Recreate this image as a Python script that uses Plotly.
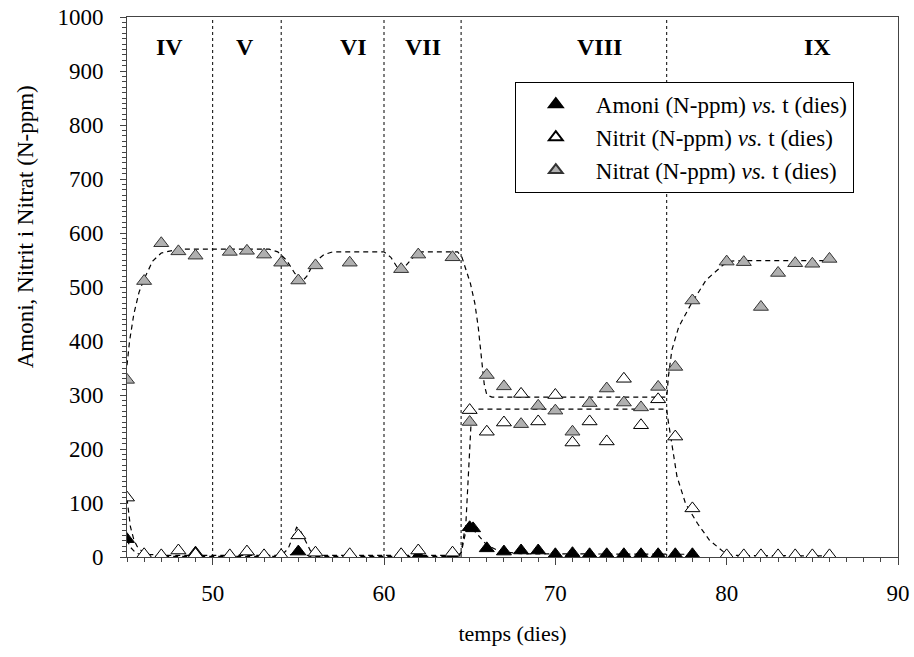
import plotly.graph_objects as go

# ---- data ----
amoni_x = [45, 49, 55, 62, 64, 65, 65.2, 66, 67, 68, 69, 70, 71, 72, 73, 74, 75, 76, 77, 78]
amoni_y = [33, 8, 10, 2, 2, 55, 53, 16, 10, 12, 12, 5, 7, 5, 5, 5, 5, 5, 5, 5]

nitrit_x = [45, 46, 47, 48, 49, 51, 52, 53, 54, 55, 56, 58, 61, 62, 64, 65, 66, 67, 68, 69, 70, 71,
            72, 73, 74, 75, 76, 77, 78, 80, 81, 82, 83, 84, 85, 86]
nitrit_y = [110, 5, 3, 12, 5, 3, 10, 3, 3, 40, 8, 5, 5, 12, 8, 272, 232, 249, 302, 251, 300, 212,
            251, 214, 330, 244, 292, 223, 90, 3, 3, 3, 3, 3, 3, 3]

nitrat_x = [45, 46, 47, 48, 49, 51, 52, 53, 54, 55, 56, 58, 61, 62, 64, 65, 66, 67, 68, 69, 70, 71,
            72, 73, 74, 75, 76, 77, 78, 80, 81, 82, 83, 84, 85, 86]
nitrat_y = [328, 511, 581, 566, 558, 565, 567, 560, 545, 512, 540, 545, 533, 560, 555, 250, 337, 316,
            246, 280, 271, 232, 285, 312, 286, 277, 315, 352, 475, 547, 546, 463, 526, 544, 543, 552]

# dashed model curves
nitrat_fit_x = [45, 45.15, 45.4, 45.7, 46, 46.5, 47, 48, 53.3, 53.8, 54.3, 54.8, 55.2, 55.5, 55.9,
                56.5, 57, 60, 60.4, 60.8, 61.0, 61.3, 61.7, 62.2, 64.3, 64.55, 64.8, 65.04, 65.3,
                65.5, 65.7, 65.85, 66, 66.3, 76.5, 76.6, 76.8, 77.2, 77.9, 78.8, 79.8, 80.3, 81, 86]
nitrat_fit_y = [355, 400, 450, 490, 515, 548, 563, 570, 570, 565, 550, 525, 510, 520, 545,
                560, 565, 565, 555, 535, 530, 540, 555, 565, 565, 555, 530, 507, 470,
                426, 365, 320, 300, 296, 296, 334, 383, 426, 467, 513, 541, 548, 549, 549]

nitrit_fit_x = [45, 45.1, 45.2, 45.4, 45.6, 45.9, 46.3, 47, 54.0, 54.4, 54.7, 54.9, 55.1, 55.4,
                55.7, 56.0, 56.5, 64.3, 64.5, 64.75, 64.9, 65.0, 65.1, 65.2, 65.5, 76.5, 76.55,
                76.8, 77.1, 77.6, 78.3, 79.0, 79.8, 80.3, 86]
nitrit_fit_y = [108, 80, 56, 32, 19, 10, 5, 3, 3, 15, 38, 55, 50, 30,
                12, 5, 3, 3, 7, 44, 124, 198, 260, 272, 274, 274, 260,
                210, 149, 99, 62, 31, 10, 3, 2]

amoni_fit_x = [45, 45.2, 45.5, 46, 47, 54.3, 54.7, 55, 55.3, 55.7, 64.3, 64.5, 64.7, 65, 65.4,
               66, 66.8, 68, 78]
amoni_fit_y = [32, 18, 8, 2, 1, 1, 6, 10, 6, 1, 1, 8, 48, 57, 44, 22, 10, 6, 5]

phase_bounds = [50, 54, 60, 64.5, 76.5]
phase_labels = ["IV", "V", "VI", "VII", "VIII", "IX"]
phase_label_x = [47.5, 51.9, 58.2, 62.3, 72.6, 85.3]

x_ticks = [50, 60, 70, 80, 90]
y_ticks = [0, 100, 200, 300, 400, 500, 600, 700, 800, 900, 1000]

FONT = "Liberation Serif, Times New Roman, serif"

fig = go.Figure()

for fx, fy in [(nitrat_fit_x, nitrat_fit_y), (nitrit_fit_x, nitrit_fit_y), (amoni_fit_x, amoni_fit_y)]:
    fig.add_trace(go.Scatter(x=fx, y=fy, mode="lines", showlegend=False, hoverinfo="skip",
                             line=dict(color="black", width=1.2, dash="5px,4px")))

fig.add_trace(go.Scatter(x=amoni_x, y=amoni_y, mode="markers",
                         name="Amoni (N-ppm) <i>vs.</i> t (dies)",
                         marker=dict(symbol="triangle-up", size=13, color="black",
                                     line=dict(color="black", width=1))))
fig.add_trace(go.Scatter(x=nitrit_x, y=nitrit_y, mode="markers",
                         name="Nitrit (N-ppm) <i>vs.</i> t (dies)",
                         marker=dict(symbol="triangle-up", size=13, color="white",
                                     line=dict(color="black", width=1))))
fig.add_trace(go.Scatter(x=nitrat_x, y=nitrat_y, mode="markers",
                         name="Nitrat (N-ppm) <i>vs.</i> t (dies)",
                         marker=dict(symbol="triangle-up", size=13, color="#b0b0b0",
                                     line=dict(color="#333333", width=1))))

for b in phase_bounds:
    fig.add_shape(type="line", x0=b, x1=b, y0=0, y1=1000, xref="x", yref="y",
                  line=dict(color="black", width=1, dash="dot"), layer="below")

for lab, lx in zip(phase_labels, phase_label_x):
    fig.add_annotation(x=lx, y=945, xref="x", yref="y", text="<b>%s</b>" % lab,
                       showarrow=False, font=dict(family=FONT, size=24, color="black"))

# y-axis title (sits above the axis centre in the reference)
fig.add_annotation(x=-0.132, y=0.611, xref="paper", yref="paper",
                   text="Amoni, Nitrit i Nitrat (N-ppm)", textangle=-90, showarrow=False,
                   xanchor="center", yanchor="middle",
                   font=dict(family=FONT, size=23, color="black"))

fig.update_layout(
    width=914, height=657,
    margin=dict(l=127, r=16, t=17, b=100),
    paper_bgcolor="white", plot_bgcolor="white",
    font=dict(family=FONT, size=22, color="black"),
    showlegend=True,
    legend=dict(x=0.503, y=0.88, xanchor="left", yanchor="top",
                bgcolor="white", bordercolor="black", borderwidth=1,
                font=dict(family=FONT, size=23, color="black"),
                tracegroupgap=0, itemsizing="constant", itemwidth=70),
)

fig.update_xaxes(range=[45, 90], tickvals=x_ticks, ticks="outside", ticklen=7, tickcolor="#444",
                 showline=True, linecolor="#444", linewidth=1, mirror=True,
                 showgrid=False, zeroline=False, automargin=False,
                 minor=dict(dtick=1, tick0=45, ticks="outside", ticklen=4, tickcolor="#444"),
                 ticklabelstandoff=8,
                 title=dict(text="temps (dies)", font=dict(family=FONT, size=22), standoff=21),
                 tickfont=dict(family=FONT, size=23))
fig.update_yaxes(range=[0, 1000], tickvals=y_ticks, ticks="outside", ticklen=6, tickcolor="#444",
                 showline=True, linecolor="#444", linewidth=1, mirror=True,
                 showgrid=False, zeroline=False, automargin=False,
                 minor=dict(dtick=10, tick0=0, ticks="outside", ticklen=4, tickcolor="#444"),
                 ticklabelstandoff=12,
                 tickfont=dict(family=FONT, size=23))

fig.write_html("out.html")
